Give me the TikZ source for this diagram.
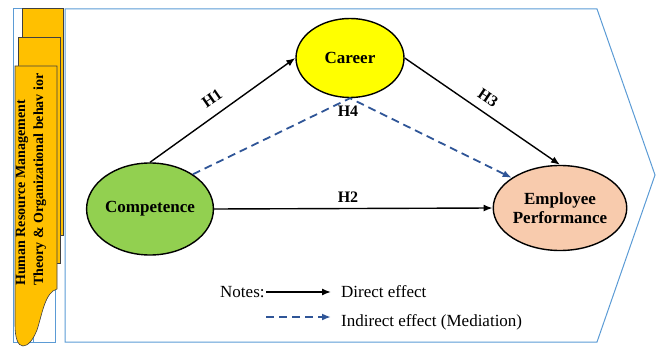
\documentclass[tikz,border=0pt]{standalone}
\usepackage{fontspec}
\setmainfont{LiberationSerif}[Extension=.ttf, UprightFont=*-Regular, BoldFont=*-Bold, ItalicFont=*-Italic, BoldItalicFont=*-BoldItalic]
\usetikzlibrary{arrows.meta,shapes.geometric}
\definecolor{frameblue}{HTML}{5B9BD5}
\definecolor{dashblue}{HTML}{2F5597}
\definecolor{tabgold}{HTML}{FFC000}
\definecolor{careerfill}{HTML}{FFFF00}
\definecolor{compfill}{HTML}{92D050}
\definecolor{empfill}{HTML}{F8CBAD}
\tikzset{
  frame/.style={draw=frameblue, line width=1pt},
  tab/.style={draw=black!75, fill=tabgold, line width=0.6pt},
  construct/.style={ellipse, draw=black, line width=1.4pt, align=center,
    font=\rmfamily\fontsize{17}{19}\selectfont\bfseries, inner sep=0pt},
  direct/.style={draw=black, line width=1.4pt, -{Latex[length=9pt,width=7pt]}},
  indirect/.style={draw=dashblue, line width=1.8pt, dash pattern=on 8pt off 5pt,
    -{Latex[length=9pt,width=7pt]}},
  hlabel/.style={font=\rmfamily\fontsize{16}{18}\selectfont\bfseries, inner sep=1pt},
  legendtext/.style={font=\rmfamily\fontsize{17}{19}\selectfont, anchor=west, inner sep=0pt}
}
\begin{document}
\begin{tikzpicture}[x=1pt,y=-1pt]
\useasboundingbox (0,0) rectangle (660,347);
% left frame outlines
\draw[frame] (13,9) rectangle (55,342);
\draw[frame] (33,280) -- (33,342);
% main chevron
\draw[frame] (65,9) -- (597,9) -- (655,175) -- (597,342) -- (65,342) -- cycle;
% stacked tabs
\path[tab] (22,8) rectangle (63,235);
\path[tab] (18,37) rectangle (60,263);
\path[tab] (15,66) -- (57,66) -- (57,289)
  .. controls (45,292) and (42,315) .. (37,330)
  .. controls (33,340) and (28,346) .. (23,346)
  .. controls (18,346) and (15,338) .. (15,325) -- cycle;
\node[rotate=90, anchor=west, align=left, inner sep=0pt,
  font=\rmfamily\fontsize{14}{18}\selectfont\bfseries] (theory) at (31,286)
  {Human Resource Management\\Theory \& Organizational behav ior};
% constructs
\node[construct, fill=careerfill, minimum width=108pt, minimum height=79pt] (career) at (350,58) {Career};
\node[construct, fill=compfill, minimum width=121pt, minimum height=92pt] (comp) at (150,209) {Competence};
\node[construct, fill=empfill, minimum width=129pt, minimum height=85pt] (emp) at (560,208) {Employee\\Performance};
% paths
\draw[direct] (comp.north) -- (career.west);
\draw[direct] (career.east) -- (emp.north);
\draw[direct] (comp.east) -- (emp.west);
\draw[indirect] (comp.39) -- (career.south) -- (emp.148);
% labels
\node[hlabel, rotate=35] (h1) at (212,98) {H1};
\node[hlabel] (h2) at (348,197) {H2};
\node[hlabel, rotate=-34] (h3) at (488,98) {H3};
\node[hlabel] (h4) at (348,111) {H4};
% legend
\node[legendtext] (notes) at (220,292) {Notes:};
\coordinate (da) at (266,292);
\coordinate (db) at (331,292);
\draw[direct] (da) -- (db);
\node[legendtext] (dtext) at (341,292) {Direct effect};
\coordinate (ia) at (266,317);
\coordinate (ib) at (331,317);
\draw[indirect] (ia) -- (ib);
\node[legendtext] (itext) at (341,322) {Indirect effect (Mediation)};
\end{tikzpicture}
\end{document}
